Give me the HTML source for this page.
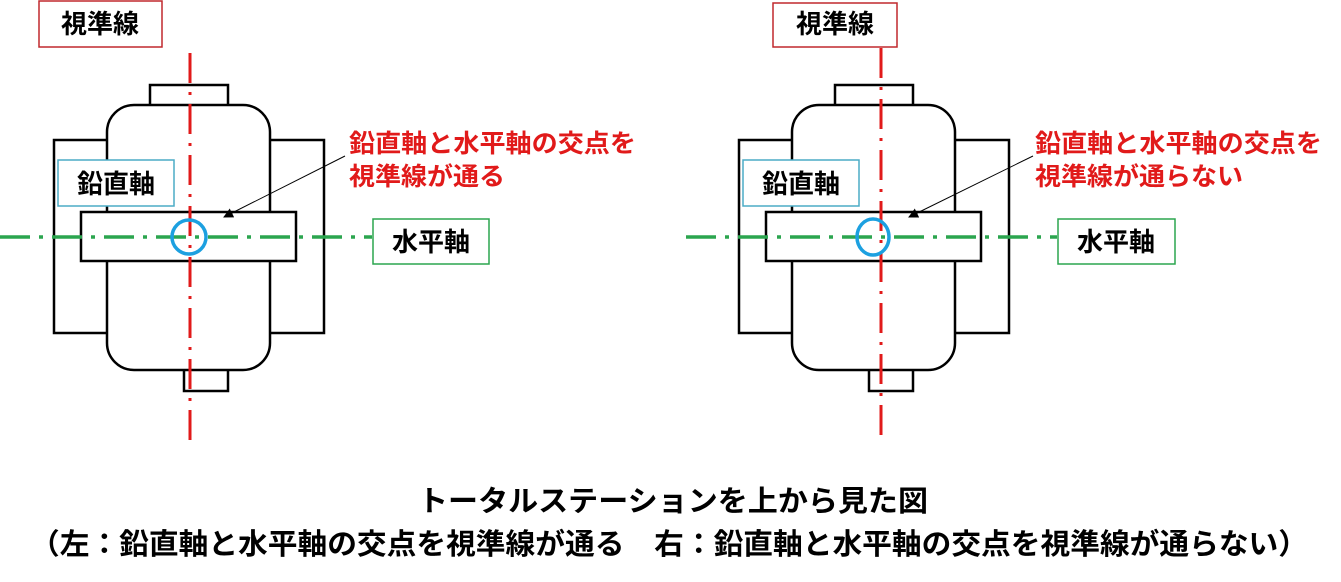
<!DOCTYPE html>
<html><head><meta charset="utf-8"><style>
html,body{margin:0;padding:0;background:#fff;}
svg{display:block}
text{font-family:"Liberation Sans","Noto Sans CJK JP",sans-serif;font-weight:bold;}
</style></head><body>
<svg width="1341" height="582" viewBox="0 0 1341 582" xmlns="http://www.w3.org/2000/svg">
<defs>
<marker id="ah" markerWidth="10" markerHeight="10" refX="9" refY="5" orient="auto" markerUnits="userSpaceOnUse">
<path d="M0,0 L10,5 L0,10 z" fill="#000"/></marker>
</defs>
<g>
<rect x="54" y="140" width="270" height="193" fill="#fff" stroke="#000" stroke-width="2.5"/>
<rect x="150" y="85" width="78" height="22" fill="#fff" stroke="#000" stroke-width="2.5"/>
<rect x="184" y="368" width="44" height="23" fill="#fff" stroke="#000" stroke-width="2.5"/>
<rect x="107" y="105" width="163" height="265" rx="27" fill="#fff" stroke="#000" stroke-width="2.5"/>
<rect x="81" y="212" width="215" height="49" fill="#fff" stroke="#000" stroke-width="2.5"/>
<rect x="58" y="160" width="116" height="46" fill="#fff" stroke="#4bacc6" stroke-width="1.5"/>
<text x="116" y="193" font-size="26" text-anchor="middle" fill="#000">鉛直軸</text>
<line x1="0" y1="237" x2="372" y2="237" stroke="#2ba54f" stroke-width="3.5" stroke-dasharray="30 9 4 9"/>
<line x1="190" y1="53" x2="190" y2="440" stroke="#e11a1a" stroke-width="3" stroke-dasharray="30 9 3 9"/>
<circle cx="189" cy="237" r="17" fill="none" stroke="#1ca0e0" stroke-width="3.5"/>
<rect x="39" y="1" width="123" height="46" fill="#fff" stroke="#c0282d" stroke-width="1.5"/>
<text x="100" y="33" font-size="26" text-anchor="middle" fill="#000">視準線</text>
<rect x="373" y="219" width="116" height="45" fill="#fff" stroke="#2ba54f" stroke-width="1.5"/>
<text x="431" y="251" font-size="26" text-anchor="middle" fill="#000">水平軸</text>
<line x1="345" y1="156" x2="224" y2="217" stroke="#000" stroke-width="1" marker-end="url(#ah)"/>
<text x="349" y="152" font-size="25" fill="#e11a1a" textLength="287" lengthAdjust="spacingAndGlyphs">鉛直軸と水平軸の交点を</text>
<text x="349" y="185" font-size="25" fill="#e11a1a" textLength="156" lengthAdjust="spacingAndGlyphs">視準線が通る</text>
</g>
<g>
<rect x="739" y="140" width="270" height="193" fill="#fff" stroke="#000" stroke-width="2.5"/>
<rect x="835" y="85" width="78" height="22" fill="#fff" stroke="#000" stroke-width="2.5"/>
<rect x="869" y="368" width="44" height="23" fill="#fff" stroke="#000" stroke-width="2.5"/>
<rect x="792" y="105" width="163" height="265" rx="27" fill="#fff" stroke="#000" stroke-width="2.5"/>
<rect x="766" y="212" width="215" height="49" fill="#fff" stroke="#000" stroke-width="2.5"/>
<rect x="743" y="160" width="116" height="46" fill="#fff" stroke="#4bacc6" stroke-width="1.5"/>
<text x="801" y="193" font-size="26" text-anchor="middle" fill="#000">鉛直軸</text>
<line x1="686" y1="237" x2="1057" y2="237" stroke="#2ba54f" stroke-width="3.5" stroke-dasharray="30 9 4 9"/>
<line x1="881" y1="48" x2="881" y2="440" stroke="#e11a1a" stroke-width="3" stroke-dasharray="30 9 3 9"/>
<ellipse cx="873" cy="237" rx="16" ry="18" fill="none" stroke="#1ca0e0" stroke-width="3.5"/>
<rect x="773" y="3" width="124" height="44" fill="#fff" stroke="#c0282d" stroke-width="1.5"/>
<text x="835" y="33" font-size="26" text-anchor="middle" fill="#000">視準線</text>
<rect x="1058" y="219" width="117" height="45" fill="#fff" stroke="#2ba54f" stroke-width="1.5"/>
<text x="1116" y="251" font-size="26" text-anchor="middle" fill="#000">水平軸</text>
<line x1="1033" y1="156" x2="909" y2="217" stroke="#000" stroke-width="1" marker-end="url(#ah)"/>
<text x="1035" y="152" font-size="25" fill="#e11a1a" textLength="287" lengthAdjust="spacingAndGlyphs">鉛直軸と水平軸の交点を</text>
<text x="1035" y="185" font-size="25" fill="#e11a1a" textLength="208" lengthAdjust="spacingAndGlyphs">視準線が通らない</text>
</g>
<text x="418" y="511" font-size="29" fill="#000" textLength="510" lengthAdjust="spacingAndGlyphs">トータルステーションを上から見た図</text>
<text x="30" y="554" font-size="29" fill="#000" textLength="1278" lengthAdjust="spacingAndGlyphs">（左：鉛直軸と水平軸の交点を視準線が通る　右：鉛直軸と水平軸の交点を視準線が通らない）</text>
</svg>
</body></html>
